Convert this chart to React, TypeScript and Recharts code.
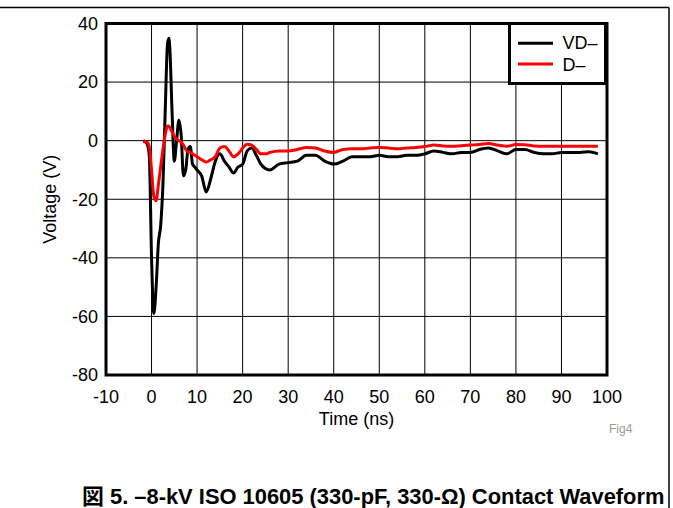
import React from "react";
import {
  LineChart,
  Line,
  XAxis,
  YAxis,
  CartesianGrid,
  ReferenceArea,
  Legend,
} from "recharts";

// Time axis (ns)
const times = [
  -1.8, -1, -0.5, 0, 0.5, 1, 1.5, 2, 2.5, 3, 3.5, 3.8, 4, 4.5, 5, 5.5, 6, 6.5, 7,
  7.5, 8, 8.5, 9, 9.5, 10, 11, 12, 13, 14, 15, 16, 17, 18, 19, 20, 21, 22, 23,
  24, 25, 26, 28, 30, 32, 34, 36, 38, 40, 42, 44, 46, 48, 50, 52, 54, 56, 58,
  60, 62, 64, 66, 68, 70, 72, 74, 76, 78, 80, 82, 84, 86, 88, 90, 92, 94, 96, 98,
];

// VD– (black)
const vdMinus = [
  0, -1, -5, -40, -59, -50, -35, -29, -15, 10, 33, 35, 32, 10, -7, 0, 7, 2, -12,
  -10, -3, -2, -8, -9, -10, -12, -17.5, -13, -7, -4.5, -7, -9, -11, -9, -8,
  -3.5, -2.5, -5, -8, -9.5, -10, -8, -7.5, -7, -5, -5, -7, -8, -7, -5.5, -5.5,
  -5.5, -5, -5.5, -5.5, -5, -5, -4.5, -3.5, -4, -4.5, -4, -4, -3, -2.5, -3.5,
  -4.5, -3, -3, -4, -4.5, -4.5, -4, -4, -4, -3.8, -4.5,
];

// D– (red)
const dMinus = [
  -0.3, -0.5, -2, -10, -19, -20.5, -15, -9, -3, 2, 5, 5, 4.5, 3, 1.5, 0.5, 0,
  -0.5, -1.5, -3, -3.8, -4, -4.5, -5, -5.5, -6.5, -7.3, -6.5, -5.5, -2.5, -2,
  -3.5, -5.5, -4.5, -2.5, -1.2, -1.5, -3, -4.5, -4.5, -4, -3.5, -3.5, -3, -2.3,
  -2.5, -3.5, -4, -3, -2.8, -2.8, -2.5, -2.3, -2.5, -2.8, -2.5, -2.3, -2, -1.5,
  -1.8, -1.9, -1.7, -1.5, -1.3, -1, -1.5, -1.9, -1.3, -1.4, -1.8, -1.9, -1.9,
  -1.9, -1.9, -1.9, -1.9, -1.9,
];

const xTicks = [-10, 0, 10, 20, 30, 40, 50, 60, 70, 80, 90, 100];
const yTicks = [-80, -60, -40, -20, 0, 20, 40];
const seriesNames = ["VD\u2013", "D\u2013"];
const caption = "\u56f3 5. \u20138-kV ISO 10605 (330-pF, 330-\u03a9) Contact Waveform";

const data = times.map((t, i) => ({ t, vd: vdMinus[i], d: dMinus[i] }));

const FONT = "'Liberation Sans', Arial, Helvetica, sans-serif";

const LegendBox = () => (
  <svg width={99} height={63} style={{ display: "block" }}>
    <rect x={1.5} y={1.5} width={96} height={60} fill="#fff" stroke="#000" strokeWidth={3} />
    <line x1={10} x2={45} y1={21.3} y2={21.3} stroke="#000" strokeWidth={3} />
    <line x1={10} x2={45} y1={42} y2={42} stroke="#ff0000" strokeWidth={3} />
    <text x={54.5} y={27.3} fontSize={18} fontFamily={FONT} fill="#000">
      {seriesNames[0]}
    </text>
    <text x={54.5} y={48.7} fontSize={18} fontFamily={FONT} fill="#000">
      {seriesNames[1]}
    </text>
  </svg>
);

export default function App() {
  return (
    <div style={{ position: "absolute", left: 0, top: 0, width: 673, height: 508, background: "#fff" }}>
      <LineChart
        width={673}
        height={508}
        data={data}
        margin={{ top: 23.5, right: 66, bottom: 103, left: -6 }}
      >
        <CartesianGrid stroke="#000" strokeWidth={1} />
        <XAxis
          dataKey="t"
          type="number"
          domain={[-10, 100]}
          ticks={xTicks}
          allowDataOverflow
          height={30}
          tickSize={0}
          tickMargin={15}
          axisLine={false}
          tickLine={false}
          tick={{ fill: "#000", fontSize: 18, fontFamily: FONT }}
          label={{
            value: "Time (ns)",
            position: "bottom",
            offset: 7,
            fill: "#000",
            fontSize: 18,
            fontFamily: FONT,
          }}
        />
        <YAxis
          type="number"
          domain={[-80, 40]}
          ticks={yTicks}
          allowDataOverflow
          width={112}
          tickSize={0}
          tickMargin={8}
          axisLine={false}
          tickLine={false}
          tick={{ fill: "#000", fontSize: 18, fontFamily: FONT }}
          label={{
            value: "Voltage (V)",
            position: "center",
            angle: -90,
            fill: "#000",
            fontSize: 18,
            fontFamily: FONT,
          }}
        />
        <ReferenceArea
          x1={-10}
          x2={100}
          y1={-80}
          y2={40}
          fill="none"
          fillOpacity={0}
          stroke="#000"
          strokeWidth={3}
          ifOverflow="visible"
        />
        <Line
          type="monotone"
          dataKey="vd"
          name={seriesNames[0]}
          stroke="#000"
          strokeWidth={3}
          dot={false}
          isAnimationActive={false}
        />
        <Line
          type="monotone"
          dataKey="d"
          name={seriesNames[1]}
          stroke="#ff0000"
          strokeWidth={3}
          dot={false}
          isAnimationActive={false}
        />
        <Legend
          layout="horizontal"
          verticalAlign="middle"
          align="center"
          content={() => <LegendBox />}
          wrapperStyle={{ position: "absolute", left: 508, top: 22, width: 99, height: 63 }}
        />
      </LineChart>
      <svg
        width={673}
        height={508}
        style={{ position: "absolute", left: 0, top: 0, pointerEvents: "none" }}
      >
        <line x1={0} x2={669} y1={7.5} y2={7.5} stroke="#000" strokeWidth={1.5} />
        <line x1={669} x2={669} y1={7.5} y2={508} stroke="#000" strokeWidth={1.5} />
        <text x={609} y={433} fontSize={12} fontFamily={FONT} fill="#999">
          Fig4
        </text>
        <text
          x={82}
          y={504}
          fontSize={21.9}
          fontWeight="bold"
          fontFamily={"'Liberation Sans', Arial, 'Noto Sans CJK JP', sans-serif"}
          fill="#000"
        >
          {caption}
        </text>
      </svg>
    </div>
  );
}
